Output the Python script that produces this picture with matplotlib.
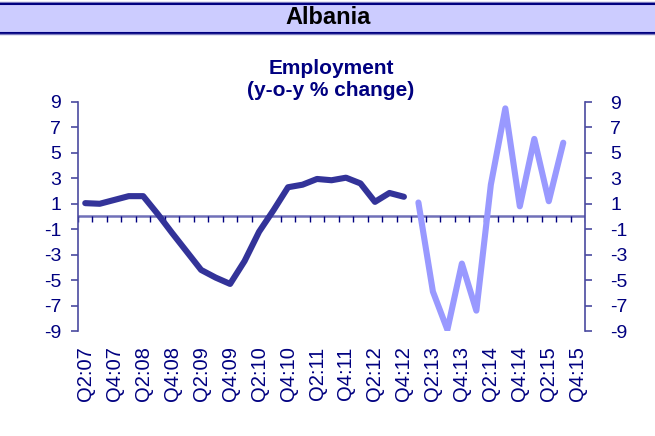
import matplotlib.pyplot as plt
from matplotlib.patches import Rectangle
from matplotlib.lines import Line2D

plt.rcParams['font.family'] = ['Liberation Sans', 'DejaVu Sans']

# Quarterly categories Q2:07 .. Q4:15
quarters = ['Q2:07', 'Q3:07', 'Q4:07', 'Q1:08', 'Q2:08', 'Q3:08', 'Q4:08',
            'Q1:09', 'Q2:09', 'Q3:09', 'Q4:09', 'Q1:10', 'Q2:10', 'Q3:10',
            'Q4:10', 'Q1:11', 'Q2:11', 'Q3:11', 'Q4:11', 'Q1:12', 'Q2:12',
            'Q3:12', 'Q4:12', 'Q1:13', 'Q2:13', 'Q3:13', 'Q4:13', 'Q1:14',
            'Q2:14', 'Q3:14', 'Q4:14', 'Q1:15', 'Q2:15', 'Q3:15', 'Q4:15']

# old series (Q2:07 - Q4:12)
old_series = [1.05, 1.0, 1.3, 1.6, 1.6, 0.2, -1.3, -2.75, -4.2, -4.8, -5.3,
              -3.5, -1.2, 0.5, 2.3, 2.5, 2.95, 2.85, 3.05, 2.6, 1.15, 1.85, 1.55]
# new series (Q1:13 - Q3:15)
new_series = [1.1, -5.9, -8.9, -3.7, -7.4, 2.5, 8.5, 0.8, 6.1, 1.2, 5.8]

yticks = [9, 7, 5, 3, 1, -1, -3, -5, -7, -9]

navy = '#000080'
axis_col = '#4a4aa0'
dark = '#333399'
light = '#9999ff'

fig = plt.figure(figsize=(6.55, 4.36), dpi=100)
ax = fig.add_axes([78 / 655, 1 - 331 / 436, 507 / 655, 229 / 436])

n = len(quarters)
x_all = list(range(n))
x_old = x_all[:len(old_series)]
x_new = x_all[len(old_series):len(old_series) + len(new_series)]

ax.plot(x_old, old_series, color=dark, lw=4.4, solid_capstyle='round',
        solid_joinstyle='round', zorder=3)
ax.plot(x_new, new_series, color=light, lw=4.4, solid_capstyle='round',
        solid_joinstyle='round', zorder=3)

# zero line with category tick marks
ax.axhline(0, color='#7070b8', lw=1.8, zorder=2)
bounds = [i + 0.5 for i in range(-1, n)]
ax.vlines(bounds, -0.45, 0, color=navy, lw=1.0, zorder=2)

ax.set_xlim(-0.5, n - 0.5)
ax.set_ylim(-9, 9)
ax.set_yticks(yticks)
ax.set_yticklabels([str(v) for v in yticks])
ax.set_xticks(x_all[::2])
ax.set_xticklabels(quarters[::2], rotation=90, va='top', ha='center')

for s in ['top', 'bottom', 'right']:
    ax.spines[s].set_visible(False)
ax.spines['left'].set_color(axis_col)
ax.spines['left'].set_linewidth(1.2)
ax.tick_params(axis='y', direction='out', length=5, width=1.2, color=axis_col,
               labelcolor=navy, labelsize=14, pad=7)
ax.tick_params(axis='x', length=0, labelcolor=navy, labelsize=14.5, pad=11)

ax2 = ax.twinx()
ax2.set_ylim(-9, 9)
ax2.set_yticks(yticks)
ax2.set_yticklabels([str(v) for v in yticks])
for s in ['top', 'bottom', 'left']:
    ax2.spines[s].set_visible(False)
ax2.spines['right'].set_color(axis_col)
ax2.spines['right'].set_linewidth(1.2)
ax2.tick_params(axis='y', direction='out', length=5, width=1.2, color=axis_col,
                labelcolor=navy, labelsize=14, pad=13)

# chart title
fig.text(331 / 655, 1 - 68 / 436, 'Employment', ha='center', va='center',
         fontsize=15, fontweight='bold', color=navy)
fig.text(331 / 655, 1 - 90 / 436, '(y-o-y % change)', ha='center', va='center',
         fontsize=15, fontweight='bold', color=navy)

# header band
fig.add_artist(Rectangle((0, 1 - 34 / 436), 1, 31 / 436, transform=fig.transFigure,
                         facecolor='#ccccff', edgecolor='none', zorder=0))
for ypx, col, lw in [(2.5, '#8080c0', 1.0), (4, navy, 1.5),
                     (33, navy, 1.5), (34.5, '#8080c0', 1.0)]:
    fig.add_artist(Line2D([0, 1], [1 - ypx / 436] * 2, transform=fig.transFigure,
                          color=col, lw=lw))
fig.text(328 / 655, 1 - 18 / 436, 'Albania', ha='center', va='center',
         fontsize=17, fontweight='bold', color='black')

fig.savefig('out.png', dpi=100)
